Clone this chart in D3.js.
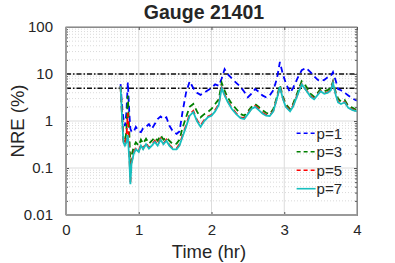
<!DOCTYPE html>
<html>
<head>
<meta charset="utf-8">
<script src="https://cdn.jsdelivr.net/npm/d3@7"></script>
<style>
  body { margin: 0; background: #fff; }
  text { font-family: "Liberation Sans", Arial, sans-serif; fill: #262626; }
</style>
</head>
<body>
<script>
// time (hr) shared by all series
let times = [0.75, 0.77, 0.79, 0.81, 0.83, 0.85, 0.87, 0.885, 0.9, 0.93, 0.96, 1.0, 1.03, 1.06, 1.1, 1.14, 1.18, 1.22, 1.26, 1.3,
  1.34, 1.38, 1.42, 1.47, 1.52, 1.56, 1.6, 1.65, 1.7, 1.75, 1.8, 1.85, 1.9, 1.95, 2.0, 2.05, 2.1, 2.14, 2.18, 2.22,
  2.28, 2.34, 2.4, 2.45, 2.5, 2.55, 2.6, 2.65, 2.7, 2.75, 2.8, 2.85, 2.9, 2.94, 2.98, 3.02, 3.08, 3.12, 3.18, 3.24,
  3.3, 3.36, 3.41, 3.46, 3.5, 3.55, 3.6, 3.64, 3.67, 3.71, 3.74, 3.78, 3.83, 3.88, 3.94, 4.0];

// NRE (%) for each p
let nreP1 = [6.1, 2.1, 1.1, 0.78, 1.5, 6.7, 1.5, 0.68, 0.6, 0.58, 0.75, 0.6, 0.58, 0.7, 0.75, 0.86, 0.68, 0.86, 1.1, 1.25,
  1.1, 1.2, 0.8, 0.6, 0.53, 0.6, 1.5, 4.0, 7.0, 5.0, 4.0, 3.6, 4.0, 4.5, 5.0, 6.0, 5.6, 8.0, 12.7, 10,
  8, 6.5, 5.3, 4.2, 3.2, 3.8, 4.8, 4.2, 3.5, 3.2, 3.5, 4.5, 8, 18, 10, 6.5, 4.0, 5.0, 8, 12,
  13.5, 11, 9, 7.5, 7, 7.5, 8.6, 9, 11, 7, 4.8, 4.5, 4.0, 3.5, 3.0, 2.7];
let nreP3 = [5.5, 1.5, 0.4, 0.35, 0.6, 3.5, 0.6, 0.1, 0.18, 0.28, 0.35, 0.3, 0.4, 0.33, 0.42, 0.33, 0.38, 0.45, 0.38, 0.5,
  0.4, 0.45, 0.38, 0.32, 0.33, 0.4, 0.7, 1.2, 2.0, 2.3, 1.6, 1.2, 1.4, 1.55, 1.8, 2.3, 2.9, 6.5, 4.5, 3.2,
  2.3, 1.8, 1.4, 1.3, 1.6, 2.0, 2.3, 2.0, 1.7, 1.5, 1.4, 1.8, 3.3, 5.8, 3.4, 2.3, 1.8, 2.3, 4.0, 7.0,
  5.5, 3.8, 3.3, 4.0, 4.8, 4.3, 4.6, 5.0, 7.0, 4.0, 3.0, 2.6, 2.8, 2.1, 1.9, 1.7];
let nreP5 = [5.5, 1.3, 0.37, 0.31, 0.45, 1.5, 0.2, 0.05, 0.13, 0.21, 0.27, 0.23, 0.32, 0.26, 0.34, 0.27, 0.31, 0.38, 0.31, 0.42,
  0.33, 0.4, 0.31, 0.26, 0.26, 0.32, 0.48, 0.8, 1.4, 1.65, 1.05, 0.8, 1.05, 1.25, 1.35, 1.7, 2.3, 5.2, 3.7, 2.7,
  1.9, 1.45, 1.2, 1.15, 1.45, 1.85, 2.1, 1.8, 1.5, 1.35, 1.32, 1.65, 3.1, 5.4, 3.1, 2.1, 1.65, 2.1, 3.6, 6.1,
  4.6, 3.4, 3.0, 3.7, 4.4, 3.9, 4.1, 4.6, 6.6, 3.6, 2.6, 2.35, 2.55, 1.95, 1.75, 1.62];
let nreP7 = [5.5, 1.2, 0.35, 0.3, 0.35, 0.5, 0.15, 0.045, 0.12, 0.2, 0.25, 0.22, 0.3, 0.25, 0.32, 0.26, 0.3, 0.36, 0.3, 0.4,
  0.32, 0.38, 0.3, 0.25, 0.25, 0.3, 0.45, 0.75, 1.3, 1.55, 1.0, 0.75, 1.0, 1.2, 1.3, 1.6, 2.2, 5.0, 3.5, 2.6,
  1.8, 1.4, 1.15, 1.1, 1.4, 1.8, 2.0, 1.7, 1.45, 1.3, 1.28, 1.6, 3.0, 5.3, 3.0, 2.0, 1.6, 2.0, 3.5, 6.0,
  4.5, 3.3, 2.9, 3.6, 4.3, 3.8, 4.0, 4.5, 6.5, 3.5, 2.5, 2.3, 2.5, 1.9, 1.7, 1.6];

let seriesNames = ["p=1", "p=3", "p=5", "p=7"];
let thresholds = [10, 5];
let xTicks = [0, 1, 2, 3, 4];
let yTicks = [0.01, 0.1, 1, 10, 100];

let svg = d3.select("body").append("svg")
  .attr("width", 395)
  .attr("height", 263);

let margin = { top: 27, right: 38, bottom: 48, left: 66 };
let width = 395 - margin.left - margin.right;
let height = 263 - margin.top - margin.bottom;

let x = d3.scaleLinear().domain([0, 4]).range([0, width]);
let y = d3.scaleLog().domain([0.01, 100]).range([height, 0]);

let g = svg.append("g").attr("transform", `translate(${margin.left},${margin.top})`);

// minor log grid (dotted)
let minors = [];
for (let dec = 0.01; dec < 100; dec *= 10) {
  for (let k = 2; k <= 9; k++) minors.push(dec * k);
}
g.selectAll(".minor").data(minors).enter().append("line")
  .attr("x1", 0).attr("x2", width)
  .attr("y1", d => y(d)).attr("y2", d => y(d))
  .attr("stroke", "#d0d0d0").attr("stroke-width", 0.8)
  .attr("stroke-dasharray", "1,2");

// major grid
g.selectAll(".ymaj").data(yTicks).enter().append("line")
  .attr("x1", 0).attr("x2", width)
  .attr("y1", d => y(d)).attr("y2", d => y(d))
  .attr("stroke", "#dcdcdc").attr("stroke-width", 1);
g.selectAll(".xmaj").data(xTicks).enter().append("line")
  .attr("x1", d => x(d)).attr("x2", d => x(d))
  .attr("y1", 0).attr("y2", height)
  .attr("stroke", "#dcdcdc").attr("stroke-width", 1);

// threshold lines
g.selectAll(".thr").data(thresholds).enter().append("line")
  .attr("x1", 0).attr("x2", width)
  .attr("y1", d => y(d)).attr("y2", d => y(d))
  .attr("stroke", "#111").attr("stroke-width", 1.5)
  .attr("stroke-dasharray", "5,2,1.5,2");

// series
let series = [
  { name: seriesNames[0], vals: nreP1, color: "#0000ff", dash: "6,4" },
  { name: seriesNames[1], vals: nreP3, color: "#008000", dash: "6,4" },
  { name: seriesNames[2], vals: nreP5, color: "#ff0000", dash: "6,4" },
  { name: seriesNames[3], vals: nreP7, color: "#17bfbf", dash: null }
];

let line = d3.line()
  .x(d => x(d[0]))
  .y(d => y(d[1]));

series.forEach(s => {
  g.append("path")
    .datum(times.map((t, i) => [t, s.vals[i]]))
    .attr("d", line)
    .attr("fill", "none")
    .attr("stroke", s.color)
    .attr("stroke-width", 1.8)
    .attr("stroke-dasharray", s.dash);
});

// box and axes
let axisColor = "#8a8a8a";
g.append("rect")
  .attr("width", width).attr("height", height)
  .attr("fill", "none").attr("stroke", axisColor).attr("stroke-width", 1);

let xAxis = g.append("g")
  .attr("transform", `translate(0,${height})`)
  .call(d3.axisBottom(x).tickValues(xTicks).tickFormat(d3.format("d")).tickSize(-3).tickPadding(9));
let yAxis = g.append("g")
  .call(d3.axisLeft(y).tickValues(yTicks).tickFormat(d => d).tickSize(-3).tickPadding(13));
let yMinor = g.append("g")
  .call(d3.axisLeft(y).tickValues(minors).tickFormat("").tickSize(-2));
let yMinorR = g.append("g")
  .attr("transform", `translate(${width},0)`)
  .call(d3.axisRight(y).tickValues(minors).tickFormat("").tickSize(-2));
let yRight = g.append("g")
  .attr("transform", `translate(${width},0)`)
  .call(d3.axisRight(y).tickValues(yTicks).tickFormat("").tickSize(-3));
let xTop = g.append("g")
  .call(d3.axisTop(x).tickValues(xTicks).tickFormat("").tickSize(-3));

[xAxis, yAxis, yMinor, yMinorR, yRight, xTop].forEach(a => {
  a.select(".domain").attr("stroke", axisColor);
  a.selectAll(".tick line").attr("stroke", "#555");
  a.selectAll("text").attr("font-size", 15).attr("fill", "#262626")
    .attr("font-family", "Liberation Sans, Arial, sans-serif");
});
g.append("line").attr("x1", 0).attr("x2", 0).attr("y1", 0).attr("y2", height)
  .attr("stroke", "#9a9a9a").attr("stroke-width", 2);
g.append("line").attr("x1", 0).attr("x2", width).attr("y1", height).attr("y2", height)
  .attr("stroke", "#9a9a9a").attr("stroke-width", 2);

// legend
let legend = g.append("g").attr("transform", `translate(${x(3.17)},${y(0.55)})`);
series.forEach((s, i) => {
  let row = legend.append("g").attr("transform", `translate(0,${i * 18.5})`);
  row.append("line")
    .attr("x1", 0).attr("x2", 19).attr("y1", 0).attr("y2", 0)
    .attr("stroke", s.color).attr("stroke-width", 1.6)
    .attr("stroke-dasharray", s.dash ? "4,3" : null);
  row.append("text")
    .attr("x", 20).attr("y", 5.5)
    .attr("font-size", 15)
    .text(s.name);
});

// title and labels
svg.append("text")
  .attr("x", 204).attr("y", 19)
  .attr("text-anchor", "middle")
  .attr("font-size", 19.5).attr("font-weight", "bold")
  .attr("fill", "#000")
  .text("Gauge 21401");

svg.append("text")
  .attr("x", 209).attr("y", 258)
  .attr("text-anchor", "middle")
  .attr("font-size", 18.5)
  .text("Time (hr)");

svg.append("text")
  .attr("transform", `translate(24,${margin.top + height / 2}) rotate(-90)`)
  .attr("text-anchor", "middle")
  .attr("font-size", 18.5)
  .text("NRE (%)");
</script>
</body>
</html>
